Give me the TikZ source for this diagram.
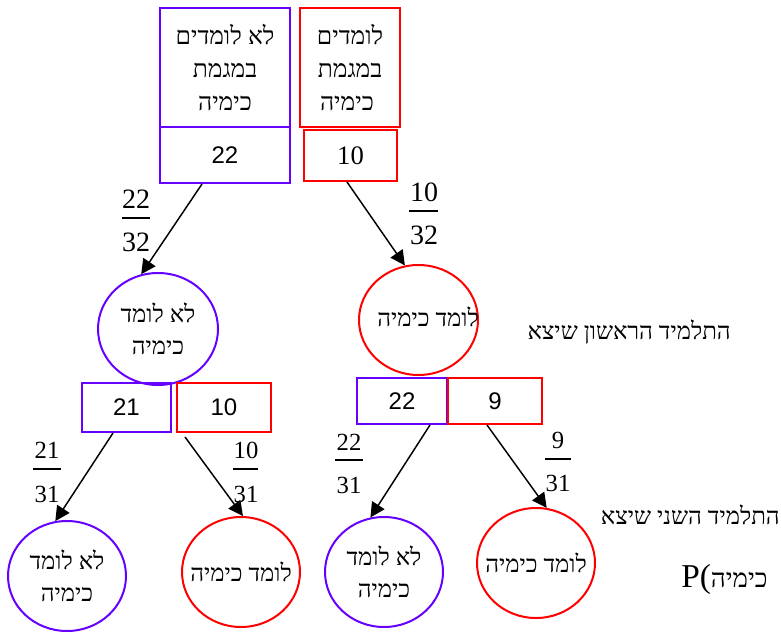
\documentclass[tikz,border=0pt]{standalone}
\usepackage{fontspec}
\setmainfont{Liberation Serif}
\newfontfamily\heb[Script=Hebrew]{Liberation Serif}
\newfontfamily\arl{Liberation Sans}
\usetikzlibrary{shapes.geometric,arrows.meta}
\TeXXeTstate=1
\definecolor{pur}{HTML}{6600FF}
\definecolor{rd}{HTML}{FF0000}
\newcommand\R[1]{\beginR #1\endR}
\newcommand\Z[1]{\makebox[0pt]{#1}}
\begin{document}
\begin{tikzpicture}[x=0.75pt,y=-0.75pt,
  hebbox/.style={draw, line width=1.5pt, inner sep=0pt, align=center, font=\heb\fontsize{18.5}{24.75}\selectfont},
  numbox/.style={draw, line width=1.5pt, inner sep=0pt},
  circ/.style={ellipse, draw, line width=1.5pt, minimum width=88.5pt, minimum height=82.5pt, inner sep=0pt, align=center, font=\heb\fontsize{18}{24}\selectfont},
  arr/.style={-{Triangle[length=11pt,width=11pt]}, line width=1.1pt},
  fbig/.style={inner sep=0pt, font=\fontsize{21}{21}\selectfont},
  fsmall/.style={inner sep=0pt, font=\fontsize{18.5}{18.5}\selectfont},
  fline/.style={line width=1pt},
  lab/.style={inner sep=0pt, font=\heb\fontsize{18}{20}\selectfont}]
\clip (0,0) rectangle (781,635);
\fill[white] (0,0) rectangle (781,635);

% top boxes
\node[hebbox, pur, text=black, minimum width=97.5pt, minimum height=89.25pt] (tL) at (225,67.5)
  {\R{לא לומדים}\\\R{במגמת}\\\R{כימיה}};
\node[numbox, pur, text=black, minimum width=97.5pt, minimum height=42pt, font=\arl\fontsize{18}{18}\selectfont] (tLn) at (225,155) {22};
\node[hebbox, rd, text=black, minimum width=75pt, minimum height=89.25pt] (tR) at (350,67.5)
  {\R{לומדים}\\\R{במגמת}\\\R{\ כימיה}};
\node[numbox, rd, text=black, minimum width=69.75pt, minimum height=38.25pt, font=\fontsize{20}{20}\selectfont] (tRn) at (350.5,155.5) {10};

% first level circles
\node[circ, pur, text=black, minimum width=90pt, minimum height=84pt] (c1) at (158,329) {\R{לא לומד}\\\R{כימיה}};
\node[circ, rd, minimum width=89.25pt] (c2) at (418.5,320) {};
\node[inner sep=0pt, font=\heb\fontsize{18}{24}\selectfont] (c2t) at (428,317) {\R{לומד כימיה}};

% arrows level 1
\coordinate (s1) at (202,184);
\coordinate (s2) at (347,182);
\draw[arr] (s1) -- (c1.107);
\draw[arr] (s2) -- (c2.104);

% fractions level 1
\node[fbig] (f1n) at (136,199) {22};
\draw[fline] (122,218) -- (150,218);
\node[fbig] (f1d) at (136,242) {32};
\node[fbig] (f2n) at (424,192) {10};
\draw[fline] (409,211) -- (438,211);
\node[fbig] (f2d) at (424,235) {32};

\node[lab, anchor=east] (l1) at (731,332) {\R{התלמיד הראשון שיצא}};

% level 2 boxes
\node[numbox, pur, text=black, minimum width=66.75pt, minimum height=36.75pt, font=\arl\fontsize{18}{18}\selectfont] (b21) at (126.5,407.5) {21};
\node[numbox, rd, text=black, minimum width=70.5pt, minimum height=36.75pt, font=\arl\fontsize{18}{18}\selectfont] (b10) at (224,407.5) {10};
\node[numbox, pur, text=black, minimum width=67.5pt, minimum height=34.5pt, font=\arl\fontsize{18}{18}\selectfont] (b22) at (402,401) {22};
\node[numbox, rd, text=black, minimum width=70.5pt, minimum height=34.5pt, font=\arl\fontsize{18}{18}\selectfont] (b9) at (495,401) {9};

% bottom circles
\node[circ, pur, text=black] (c3) at (67,576) {\R{לא לומד}\\\R{כימיה}};
\node[circ, rd, text=black] (c4) at (241,572) {\Z{\R{לומד כימיה}}};
\node[circ, pur, text=black] (c5) at (384,572) {\R{לא לומד}\\\R{כימיה}};
\node[circ, rd, text=black] (c6) at (536,563) {\Z{\R{לומד כימיה}}};

% arrows level 2
\coordinate (s3) at (113,433);
\coordinate (s4) at (185,437);
\coordinate (s5) at (430,425);
\coordinate (s6) at (487,425);
\draw[arr] (s3) -- (c3.102);
\draw[arr] (s4) -- (c4.88);
\draw[arr] (s5) -- (c5.104);
\draw[arr] (s6) -- (c6.79);

% fractions level 2
\node[fsmall] (f3n) at (47,450) {21};
\draw[fline] (33,469) -- (61,469);
\node[fsmall] (f3d) at (47,494) {31};
\node[fsmall] (f4n) at (246,450) {10};
\draw[fline] (233,469) -- (258,469);
\node[fsmall] (f4d) at (246,494) {31};
\node[fsmall] (f5n) at (349,442) {22};
\draw[fline] (335,460) -- (363,460);
\node[fsmall] (f5d) at (349,485) {31};
\node[fsmall] (f6n) at (558,440) {9};
\draw[fline] (545,459) -- (571,459);
\node[fsmall] (f6d) at (558,483) {31};

\node[lab, anchor=east] (l2) at (780,515) {\R{התלמיד השני שיצא}};
\node[inner sep=0pt, anchor=base west] (pl) at (681,587)
  {{\fontsize{25}{25}\selectfont P(}{\heb\fontsize{19.5}{22}\selectfont\R{כימיה}}};
\end{tikzpicture}
\end{document}
